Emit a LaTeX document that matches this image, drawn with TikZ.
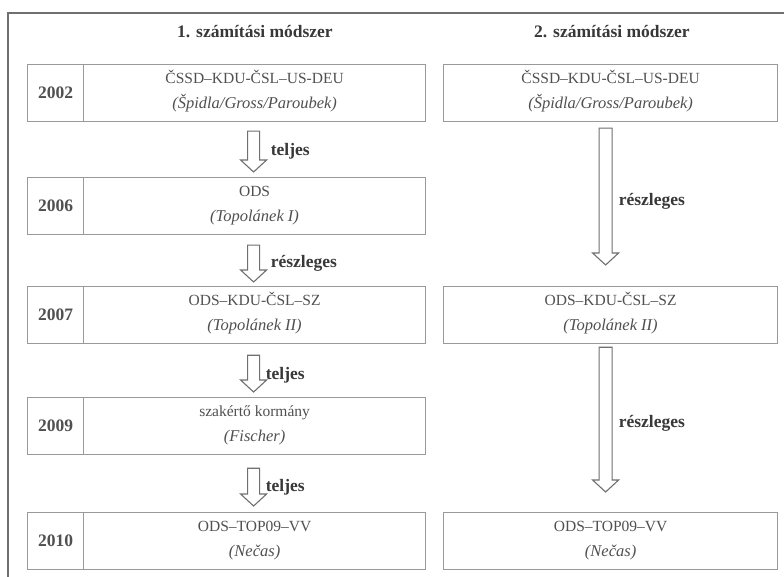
\documentclass[tikz,border=0pt]{standalone}
\usepackage{fontspec}
\setmainfont{Liberation Serif}
\usetikzlibrary{calc}
\definecolor{boxgray}{HTML}{9A9A9A}
\definecolor{txtgray}{HTML}{505050}
\definecolor{framegray}{HTML}{707070}
\definecolor{ttlgray}{HTML}{383838}
\newcommand{\barr}[3]{%
  \draw[barrow] ($(#1)+(-#3,0)$) -- ($(#2)+(-#3,-12)$) -- ($(#2)+(-13,-12)$) -- (#2)
    -- ($(#2)+(13,-12)$) -- ($(#2)+(#3,-12)$) -- ($(#1)+(#3,0)$) -- cycle;}
\tikzset{
  x=1pt,y=-1pt,
  yearcell/.style={draw=boxgray, line width=1.2pt, minimum width=56pt, minimum height=57pt,
    inner sep=0pt, anchor=north west, font=\fontsize{17.5}{19}\selectfont\bfseries, text=txtgray},
  leftcell/.style={draw=boxgray, line width=1.2pt, minimum width=342pt, minimum height=57pt,
    inner sep=0pt, anchor=north west},
  rightcell/.style={draw=boxgray, line width=1.2pt, minimum width=334pt, minimum height=57pt,
    inner sep=0pt, anchor=north west},
  lineone/.style={font=\fontsize{15.5}{18}\selectfont, text=txtgray, inner sep=0pt, anchor=base},
  linetwo/.style={font=\fontsize{16.5}{19}\selectfont\itshape, text=txtgray, inner sep=0pt, anchor=base},
  ttl/.style={font=\fontsize{17.5}{20}\selectfont\bfseries, text=ttlgray, inner sep=0pt},
  lbl/.style={font=\fontsize{17.5}{20}\selectfont\bfseries, text=ttlgray, anchor=west, inner sep=0pt},
  barrow/.style={draw=framegray, line width=1.1pt, fill=white, line join=miter},
  frameline/.style={draw=framegray, line width=1.5pt}
}
\begin{document}
\begin{tikzpicture}
\useasboundingbox[fill=white] (0,0) rectangle (784,577);
\draw[frameline] (784,13) -- (8,13) -- (8,577);

\node[ttl] (t1) at (255,32) {1. számítási módszer};
\node[ttl] (t2) at (612,32) {2. számítási módszer};

% left column
\node[yearcell] (y1) at (27,64) {2002};
\node[leftcell] (c1) at (83,64) {};
\node[yearcell] (y2) at (27,177) {2006};
\node[leftcell] (c2) at (83,177) {};
\node[yearcell] (y3) at (27,286) {2007};
\node[leftcell] (c3) at (83,286) {};
\node[yearcell] (y4) at (27,397) {2009};
\node[leftcell] (c4) at (83,397) {};
\node[yearcell] (y5) at (27,512) {2010};
\node[leftcell] (c5) at (83,512) {};

\node[lineone] (c1a) at ($(c1.north)+(0,19.5)$) {ČSSD–KDU-ČSL–US-DEU};
\node[linetwo] (c1b) at ($(c1.north)+(0,44.5)$) {(Špidla/Gross/Paroubek)};
\node[lineone] (c2a) at ($(c2.north)+(0,19.5)$) {ODS};
\node[linetwo] (c2b) at ($(c2.north)+(0,44.5)$) {(Topolánek I)};
\node[lineone] (c3a) at ($(c3.north)+(0,19.5)$) {ODS–KDU-ČSL–SZ};
\node[linetwo] (c3b) at ($(c3.north)+(0,44.5)$) {(Topolánek II)};
\node[lineone] (c4a) at ($(c4.north)+(0,19.5)$) {szakértő kormány};
\node[linetwo] (c4b) at ($(c4.north)+(0,44.5)$) {(Fischer)};
\node[lineone] (c5a) at ($(c5.north)+(0,19.5)$) {ODS–TOP09–VV};
\node[linetwo] (c5b) at ($(c5.north)+(0,44.5)$) {(Nečas)};

% right column
\node[rightcell] (r1) at (443,64) {};
\node[rightcell] (r3) at (443,286) {};
\node[rightcell] (r5) at (443,512) {};
\node[lineone] (r1a) at ($(r1.north)+(0,19.5)$) {ČSSD–KDU-ČSL–US-DEU};
\node[linetwo] (r1b) at ($(r1.north)+(0,44.5)$) {(Špidla/Gross/Paroubek)};
\node[lineone] (r3a) at ($(r3.north)+(0,19.5)$) {ODS–KDU-ČSL–SZ};
\node[linetwo] (r3b) at ($(r3.north)+(0,44.5)$) {(Topolánek II)};
\node[lineone] (r5a) at ($(r5.north)+(0,19.5)$) {ODS–TOP09–VV};
\node[linetwo] (r5b) at ($(r5.north)+(0,44.5)$) {(Nečas)};

% left arrows
\coordinate (ls1) at ($(c1.south)+(-1,9)$);  \coordinate (lt1) at ($(c2.north)+(-1,-5)$);
\coordinate (ls2) at ($(c2.south)+(-1,10)$); \coordinate (lt2) at ($(c3.north)+(-1,-4)$);
\coordinate (ls3) at ($(c3.south)+(-1,11)$); \coordinate (lt3) at ($(c4.north)+(-1,-5)$);
\coordinate (ls4) at ($(c4.south)+(-1,13)$); \coordinate (lt4) at ($(c5.north)+(-1,-6)$);
\barr{ls1}{lt1}{6}
\barr{ls2}{lt2}{6}
\barr{ls3}{lt3}{6}
\barr{ls4}{lt4}{6}
\node[lbl] (l1) at ($(ls1)!0.5!(lt1)+(17,0)$) {teljes};
\node[lbl] (l2) at ($(ls2)!0.5!(lt2)+(17,0)$) {részleges};
\node[lbl] (l3) at ($(ls3)!0.5!(lt3)+(12,2)$) {teljes};
\node[lbl] (l4) at ($(ls4)!0.5!(lt4)+(12,0)$) {teljes};

% right arrows
\coordinate (rs1) at ($(r1.south)+(-5,6)$); \coordinate (rt1) at ($(r3.north)+(-5,-21)$);
\coordinate (rs2) at ($(r3.south)+(-5,3)$); \coordinate (rt2) at ($(r5.north)+(-5,-20)$);
\barr{rs1}{rt1}{6.5}
\barr{rs2}{rt2}{6.5}
\node[lbl] (rl1) at ($(rs1)!0.5!(rt1)+(13,5)$) {részleges};
\node[lbl] (rl2) at ($(rs2)!0.5!(rt2)+(13,4)$) {részleges};
\end{tikzpicture}
\end{document}
